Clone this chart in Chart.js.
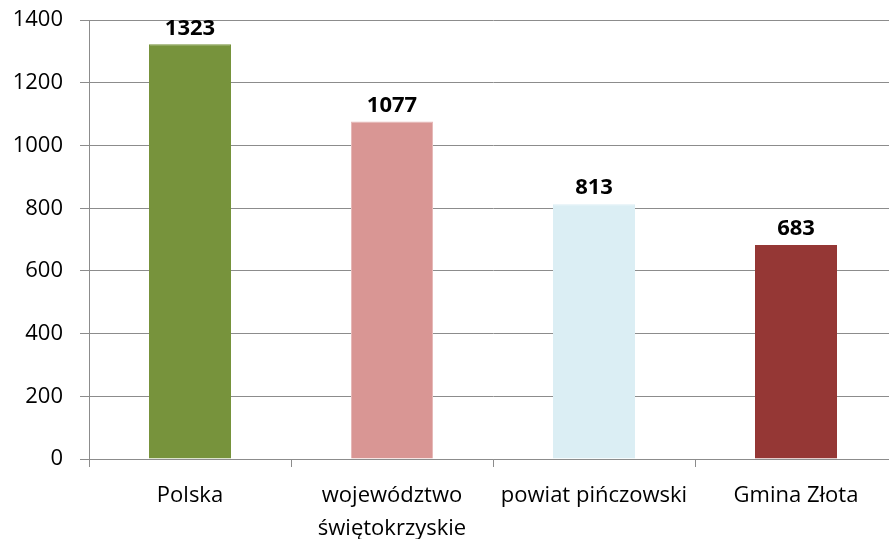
<!DOCTYPE html>
<html>
<head>
<meta charset="utf-8">
<script src="https://cdn.jsdelivr.net/npm/chart.js@4"></script>
<style>
    html, body { margin: 0; padding: 0; background: #fff; overflow: hidden; }
    #wrap { width: 897px; height: 549px; position: relative; top: -10px; }
</style>
</head>
<body>
<div id="wrap"><canvas id="barChart"></canvas></div>
<script>
// Chart data
const categories = ['Polska', ['województwo', 'świętokrzyskie'], 'powiat pińczowski', 'Gmina Złota'];
const values = [1323, 1077, 813, 683];
const barColors = ['#77933C', '#D99694', '#DBEEF4', '#953735'];
const barBorders = ['#77933C', '#E6B9B8', '#DBEEF4', '#953735'];
const yTicks = [0, 200, 400, 600, 800, 1000, 1200, 1400];

const FONT = 'Open Sans';

// Bold value labels above bars
const valueLabels = {
    id: 'valueLabels',
    afterDatasetsDraw(chart) {
        const ctx = chart.ctx;
        const meta = chart.getDatasetMeta(0);
        ctx.save();
        ctx.font = 'bold 22px "' + FONT + '"';
        ctx.fillStyle = '#000';
        ctx.textAlign = 'center';
        ctx.textBaseline = 'middle';
        meta.data.forEach((bar, i) => {
            ctx.fillText(values[i], bar.x, bar.y - 16);
        });
        ctx.restore();
    }
};

new Chart(document.getElementById('barChart').getContext('2d'), {
    type: 'bar',
    data: {
        labels: categories,
        datasets: [{
            data: values,
            backgroundColor: barColors,
            borderColor: barBorders,
            borderWidth: 1,
            categoryPercentage: 1,
            barPercentage: 0.406
        }]
    },
    options: {
        responsive: true,
        maintainAspectRatio: false,
        animation: false,
        plugins: {
            legend: { display: false },
            tooltip: { enabled: false }
        },
        scales: {
            y: {
                min: 0,
                max: 1400,
                afterBuildTicks: (scale) => { scale.ticks = yTicks.map(v => ({ value: v })); },
                afterFit: (scale) => { scale.width = 89; },
                border: { color: '#8c8c8c', width: 1 },
                grid: { color: '#8c8c8c', lineWidth: 1, tickLength: 9 },
                ticks: {
                    color: '#000',
                    padding: 17,
                    callback: (v) => String(v),
                    font: { family: FONT, size: 22 }
                }
            },
            x: {
                afterFit: (scale) => { scale.height = 80; },
                border: { color: '#8c8c8c', width: 1 },
                grid: { drawOnChartArea: false, color: '#8c8c8c', tickLength: 8 },
                ticks: {
                    color: '#000',
                    padding: 12,
                    maxRotation: 0,
                    autoSkip: false,
                    font: { family: FONT, size: 22, lineHeight: 1.5 }
                }
            }
        }
    },
    plugins: [valueLabels]
});
</script>
</body>
</html>
